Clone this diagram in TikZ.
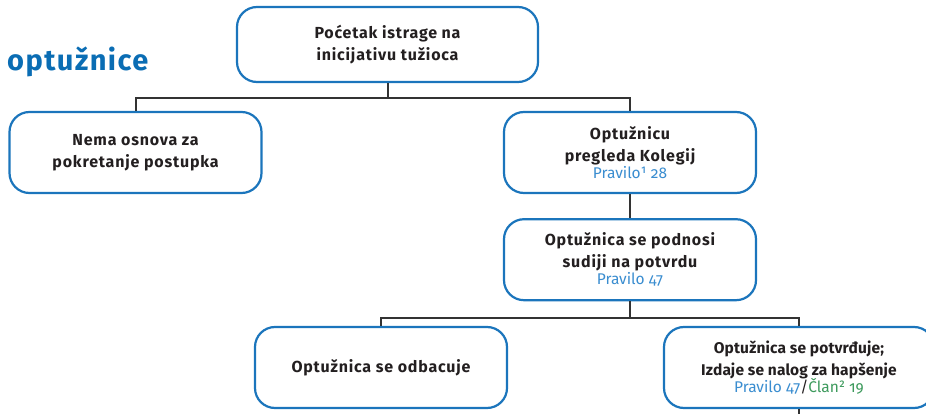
\documentclass[tikz,border=0pt]{standalone}
\usepackage{fontspec}
\setmainfont{Fira Sans}[Numbers=OldStyle]
\newfontfamily\boxfont{Fira Sans}[LetterSpace=5]
\newfontfamily\tightfont{Fira Sans}[LetterSpace=1]
\usepackage{tikz}
\usetikzlibrary{positioning}

\definecolor{boxblue}{HTML}{1B75BC}
\definecolor{titleblue}{HTML}{0A6DB4}
\definecolor{ruleblue}{HTML}{3A8DD0}
\definecolor{rulegreen}{HTML}{3D9A5C}
\definecolor{ink}{HTML}{231F20}
\definecolor{wire}{HTML}{333333}

\newcommand{\pravilo}[1]{{\rmfamily\mdseries\fontsize{15.5}{18}\selectfont\color{ruleblue}#1}}
\newcommand{\clan}[1]{{\rmfamily\mdseries\fontsize{15.5}{18}\selectfont\color{rulegreen}#1}}

\begin{document}
\begin{tikzpicture}[x=1pt, y=-1pt,
    box/.style={draw=boxblue, line width=2.2pt, rounded corners=20pt, fill=white,
      minimum width=252pt, minimum height=81pt, align=center, text=ink,
      font=\boxfont\fontsize{16}{22}\selectfont\bfseries},
    link/.style={draw=wire, line width=2pt}]
  \useasboundingbox (0,0) rectangle (926,414);
  \node[anchor=base west, inner sep=0pt, text=titleblue,
    font=\boxfont\fontsize{29}{32}\selectfont\bfseries] (title) at (7,71) {optužnice};
  \node[box, minimum width=301pt, minimum height=75pt] (start) at (387.5,44.5)
    {Poćetak istrage na\\inicijativu tužioca};
  \node[box] (nema) at (135.5,152.5) {Nema osnova za\\pokretanje postupka};
  \node[box] (kolegij) at (630,152.5)
    {Optužnicu\\pregleda Kolegij\\[-5pt]\pravilo{Pravilo¹ 28}};
  \node[box, below=24pt of kolegij] (podnosi)
    {Optužnica se podnosi\\sudiji na potvrdu\\[-5pt]\pravilo{Pravilo 47}};
  \node[box] (odbacuje) at (381,367.5) {Optužnica se odbacuje};
  \node[box, minimum width=270pt, font=\tightfont\fontsize{15.5}{22}\selectfont\bfseries]
    (potvrda) at (799,367.5)
    {Optužnica se potvrđuje;\\Izdaje se nalog za hapšenje\\[-5pt]%
     \pravilo{Pravilo 47}{\mdseries/}\clan{Član² 19}};
  \coordinate (dalje) at (799,420);
  \draw[link] (start.south) -- ++(0,15) coordinate (split1) -| (nema.north);
  \draw[link] (split1) -| (kolegij.north);
  \draw[link] (kolegij) -- (podnosi);
  \draw[link] (podnosi.south) -- ++(0,17) coordinate (split2) -| (odbacuje.north);
  \draw[link] (split2) -| (potvrda.north);
  \draw[link] (potvrda.south) -- (dalje);
\end{tikzpicture}
\end{document}
